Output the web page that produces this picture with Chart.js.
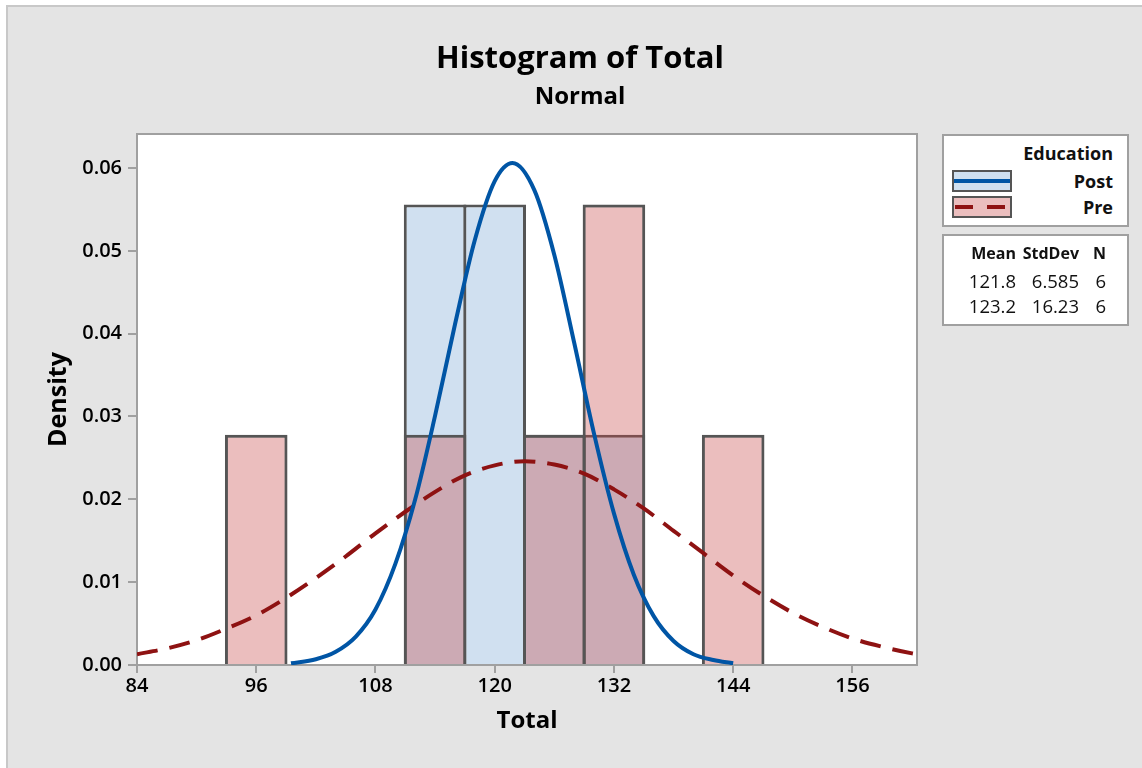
<!DOCTYPE html>
<html>
<head>
<meta charset="utf-8">
<script src="https://cdn.jsdelivr.net/npm/chart.js@4.4.1/dist/chart.umd.min.js"></script>
<style>
  body { margin: 0; background: #fff; font-family: "Open Sans", sans-serif; }
  #frame { position: absolute; left: 6px; top: 5px; width: 1160px; height: 790px;
    background: #e4e4e4; border-left: 2px solid #c8c8c8; border-top: 2px solid #c8c8c8; }
  #wrap { position: absolute; left: 0; top: 0; width: 1142px; height: 768px; }
  .box { position: absolute; left: 942px; width: 187px; background: #fff;
    border: 2px solid #a0a0a0; box-sizing: border-box; }
  .txt { position: absolute; height: 24px; line-height: 24px; font-size: 18px; color: #111; white-space: nowrap; }
  .b { font-weight: bold; }
  .sw { position: absolute; left: 8px; width: 60px; height: 22px; border: 2px solid #555; box-sizing: border-box; }
  .sw i { position: absolute; left: 0; right: 0; top: 7px; height: 4px; }
</style>
</head>
<body>
<div id="frame"></div>
<div id="wrap"><canvas id="hist"></canvas></div>
<div class="box" id="legBox" style="top:134px;height:93px;"></div>
<div class="box" id="statBox" style="top:234px;height:92px;"></div>
<script>
// histogram bins (width 6), density values
var postCenters = [114, 120, 126, 132];
var postDensity = [0.0556, 0.0556, 0.0278, 0.0278];
var preCenters = [96, 114, 126, 132, 144];
var preDensity = [0.0278, 0.0278, 0.0278, 0.0556, 0.0278];

// fitted normal curves
var postCurveX = [99.5, 102, 104, 106, 108, 110, 112, 114, 116, 118, 120, 121.8, 124, 126, 128, 130, 132, 134, 136, 138, 140, 142, 144];
var postCurveY = [0.0002, 0.0007, 0.0016, 0.0034, 0.0067, 0.0122, 0.0200, 0.0301, 0.0411, 0.0513, 0.0584, 0.0606, 0.0573, 0.0495, 0.0389, 0.0279, 0.0183, 0.0109, 0.0059, 0.0029, 0.0013, 0.0006, 0.0002];
var preCurveX = [84, 87, 90, 93, 96, 99, 102, 105, 108, 111, 114, 117, 120, 123, 126, 129, 132, 135, 138, 141, 144, 147, 150, 153, 156, 159, 162, 162.5];
var preCurveY = [0.0013, 0.0020, 0.0030, 0.0044, 0.0060, 0.0081, 0.0105, 0.0131, 0.0159, 0.0185, 0.0209, 0.0229, 0.0241, 0.0246, 0.0242, 0.0231, 0.0212, 0.0189, 0.0162, 0.0135, 0.0108, 0.0084, 0.0063, 0.0046, 0.0032, 0.0022, 0.0014, 0.0013];

var groups = ["Post", "Pre"];
var means = ["121.8", "123.2"];
var stdevs = ["6.585", "16.23"];
var counts = ["6", "6"];

var FONT = "Open Sans";
var postFill = "#d0e0f0", preFill = "rgba(198,69,69,0.35)";
var postLine = "#0055a5", preLine = "#8e1212";
var axisGray = "#a0a0a0";

function pts(xs, ys) {
    return xs.map(function (x, i) { return { x: x, y: ys[i] }; });
}

const plotFrame = {
    id: "plotFrame",
    beforeDraw(chart) {
        const a = chart.chartArea, ctx = chart.ctx;
        ctx.save();
        ctx.fillStyle = "#fff";
        ctx.fillRect(a.left, a.top, a.width, a.height);
        ctx.restore();
    },
    beforeDatasetsDraw(chart) {
        const a = chart.chartArea, ctx = chart.ctx;
        ctx.save();
        ctx.strokeStyle = axisGray;
        ctx.lineWidth = 2;
        ctx.strokeRect(a.left, a.top, a.width, a.height);
        ctx.restore();
    }
};

new Chart(document.getElementById("hist"), {
    type: "bar",
    data: {
        datasets: [
            {
                type: "line",
                label: "Post fit",
                data: pts(postCurveX, postCurveY),
                borderColor: postLine,
                borderWidth: 4,
                pointRadius: 0,
                cubicInterpolationMode: "monotone",
                order: 0,
            },
            {
                type: "line",
                label: "Pre fit",
                data: pts(preCurveX, preCurveY),
                borderColor: preLine,
                borderWidth: 4,
                borderDash: [21, 12],
                pointRadius: 0,
                cubicInterpolationMode: "monotone",
                order: 1,
            },
            {
                label: "Pre",
                data: pts(preCenters, preDensity),
                backgroundColor: preFill,
                borderColor: "#555",
                borderWidth: 3,
                barPercentage: 1.05,
                categoryPercentage: 1,
                grouped: false,
                order: 2,
            },
            {
                label: "Post",
                data: pts(postCenters, postDensity),
                backgroundColor: postFill,
                borderColor: "#555",
                borderWidth: 3,
                barPercentage: 1.05,
                categoryPercentage: 1,
                grouped: false,
                order: 3,
            },
        ],
    },
    options: {
        responsive: true,
        maintainAspectRatio: false,
        animation: false,
        layout: { padding: { left: 18, right: 0, top: 0, bottom: 0 } },
        plugins: {
            legend: { display: false },
            tooltip: { enabled: false },
            title: {
                display: true,
                text: "Histogram of Total",
                color: "#000",
                font: { family: FONT, size: 31, weight: "bold", lineHeight: 1.2 },
                padding: { top: 41, bottom: 0 },
            },
            subtitle: {
                display: true,
                text: "Normal",
                color: "#000",
                font: { family: FONT, size: 24, weight: "bold", lineHeight: 1.2 },
                padding: { top: 5, bottom: 22 },
            },
        },
        scales: {
            x: {
                type: "linear",
                min: 84,
                max: 162.5,
                offset: false,
                afterFit: function (s) { s.height = 103; },
                ticks: {
                    stepSize: 12,
                    includeBounds: false,
                    color: "#000",
                    padding: 1,
                    font: { family: FONT, size: 20, weight: "600" },
                },
                grid: { offset: false, drawOnChartArea: false, color: axisGray, lineWidth: 2, tickLength: 8 },
                border: { color: axisGray, width: 2 },
                title: {
                    display: true,
                    text: "Total",
                    color: "#000",
                    font: { family: FONT, size: 24, weight: "bold", lineHeight: 1.2 },
                    padding: { top: 0, bottom: 32 },
                },
            },
            y: {
                min: 0,
                max: 0.0641,
                afterFit: function (s) { s.width = 119; },
                ticks: {
                    stepSize: 0.01,
                    includeBounds: false,
                    color: "#000",
                    padding: 6,
                    font: { family: FONT, size: 20, weight: "600" },
                    callback: function (v) { return v.toFixed(2); },
                },
                grid: { drawOnChartArea: false, color: axisGray, lineWidth: 2, tickLength: 9 },
                border: { color: axisGray, width: 2 },
                title: {
                    display: true,
                    text: "Density",
                    color: "#000",
                    font: { family: FONT, size: 25, weight: "bold", lineHeight: 1.2 },
                    padding: { top: 26, bottom: 0 },
                },
            },
            yRight: {
                position: "right",
                min: 0,
                max: 0.0641,
                afterFit: function (s) { s.width = 225; },
                ticks: { display: false },
                grid: { display: false },
                border: { display: false },
            },
        },
    },
    plugins: [plotFrame],
});

// legend boxes (Minitab style)
function addText(parent, text, cls, rightEdge, centerY, size) {
    var d = document.createElement("div");
    d.className = "txt" + (cls ? " " + cls : "");
    d.textContent = text;
    d.style.right = (187 - 2 - rightEdge) + "px";
    d.style.top = (centerY - 12) + "px";
    if (size) d.style.fontSize = size + "px";
    parent.appendChild(d);
}

var leg = document.getElementById("legBox");
addText(leg, "Education", "b", 171, 16.5, 18);
var swatchFills = [postFill, "#ebbebe"];
groups.forEach(function (g, i) {
    var cy = [44.5, 71][i];
    addText(leg, g, "b", 171, cy, 18);
    var sw = document.createElement("div");
    sw.className = "sw";
    sw.style.top = (cy - 11) + "px";
    sw.style.background = swatchFills[i];
    var ln = document.createElement("i");
    ln.style.background = i === 0 ? postLine
        : "repeating-linear-gradient(to right, transparent 0 1px, " + preLine + " 1px 19px, transparent 19px 32px)";
    sw.appendChild(ln);
    leg.appendChild(sw);
});

var stat = document.getElementById("statBox");
var colRight = [74, 137, 164];
var header = ["Mean", "StdDev", "N"];
var rowY = [17, 44.5, 69.5];
header.forEach(function (h, c) { addText(stat, h, "b", colRight[c], rowY[0], 16); });
groups.forEach(function (g, i) {
    [means[i], stdevs[i], counts[i]].forEach(function (v, c) {
        addText(stat, v, "", colRight[c], rowY[i + 1], 18.5);
    });
});
</script>
</body>
</html>
